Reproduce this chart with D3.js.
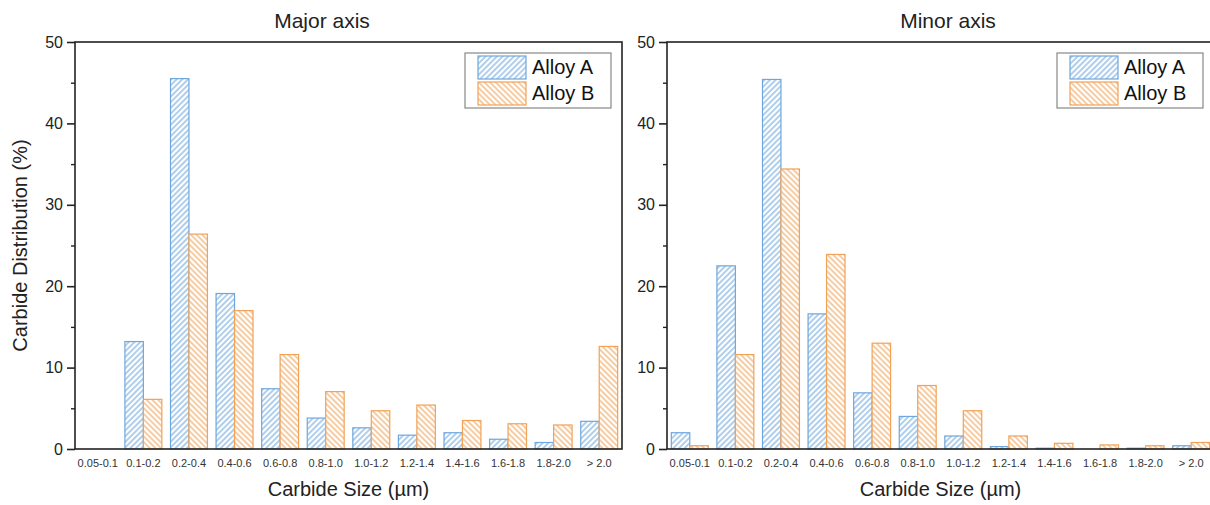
<!DOCTYPE html>
<html>
<head>
<meta charset="utf-8">
<script src="https://cdn.jsdelivr.net/npm/d3@7"></script>
<style>
  html, body { margin: 0; padding: 0; background: #fff; }
  svg { display: block; font-family: Arial, "Liberation Sans", sans-serif; }
</style>
</head>
<body>
<svg id="chart" width="1210" height="505"></svg>
<script>
// ---- data ----
const categories = ["0.05-0.1","0.1-0.2","0.2-0.4","0.4-0.6","0.6-0.8","0.8-1.0","1.0-1.2","1.2-1.4","1.4-1.6","1.6-1.8","1.8-2.0","> 2.0"];
const seriesNames = ["Alloy A", "Alloy B"];
const majorA = [0, 13.2, 45.5, 19.1, 7.4, 3.8, 2.6, 1.7, 2.0, 1.2, 0.8, 3.4];
const majorB = [0, 6.1, 26.4, 17.0, 11.6, 7.05, 4.7, 5.4, 3.5, 3.1, 2.95, 12.6];
const minorA = [2.0, 22.5, 45.4, 16.6, 6.9, 4.0, 1.6, 0.3, 0.1, 0, 0.1, 0.4];
const minorB = [0.4, 11.6, 34.4, 23.9, 13.0, 7.8, 4.7, 1.6, 0.7, 0.5, 0.4, 0.8];
const yMajorTicks = [0, 10, 20, 30, 40, 50];
const yMinorTicks = [5, 15, 25, 35, 45];
const panelTitles = ["Major axis", "Minor axis"];

// ---- styles ----
const colors = ["#6ea7dd", "#f0a257"];
const svg = d3.select("#chart");
const defs = svg.append("defs");
[["hatchA", 45, colors[0]], ["hatchB", -45, colors[1]]].forEach(([id, ang, c]) => {
  const p = defs.append("pattern").attr("id", id)
    .attr("patternUnits", "userSpaceOnUse")
    .attr("width", 4).attr("height", 4)
    .attr("patternTransform", `rotate(${ang})`);
  p.append("rect").attr("width", 4).attr("height", 4).attr("fill", "#fff");
  p.append("line").attr("x1", 1).attr("y1", 0).attr("x2", 1).attr("y2", 4)
    .attr("stroke", c).attr("stroke-width", 1.1);
});
const fills = ["url(#hatchA)", "url(#hatchB)"];

const panels = [
  { x0: 75, x1: 622, a: majorA, b: majorB, title: panelTitles[0], titleX: 322, yLabel: true, legendX: 465 },
  { x0: 667, x1: 1214, a: minorA, b: minorB, title: panelTitles[1], titleX: 948, yLabel: false, legendX: 1057 }
];
const yTop = 42, yBot = 449;

panels.forEach(P => {
  const g = svg.append("g");
  const x = d3.scaleBand().domain(categories).range([P.x0, P.x1]).paddingInner(0.19).paddingOuter(0.095);
  const xs = d3.scaleBand().domain([0, 1]).range([0, x.bandwidth()]);
  const y = d3.scaleLinear().domain([0, 50]).range([yBot, yTop]);

  // bars
  [P.a, P.b].forEach((vals, si) => {
    g.append("g").selectAll("rect").data(categories).join("rect")
      .attr("x", (c) => x(c) + xs(si))
      .attr("width", xs.bandwidth())
      .attr("y", (c, i) => y(vals[i]))
      .attr("height", (c, i) => y(0) - y(vals[i]))
      .attr("fill", fills[si])
      .attr("stroke", colors[si])
      .attr("stroke-width", 1.2)
      .style("display", (c, i) => vals[i] > 0 ? null : "none");
  });

  // frame
  g.append("rect").attr("x", P.x0).attr("y", yTop)
    .attr("width", P.x1 - P.x0).attr("height", yBot - yTop)
    .attr("fill", "none").attr("stroke", "#222").attr("stroke-width", 1.6);

  // y axis
  const ya = g.append("g").attr("transform", `translate(${P.x0},0)`)
    .call(d3.axisLeft(y).tickValues(yMajorTicks).tickSize(8).tickPadding(4));
  ya.select(".domain").remove();
  ya.selectAll(".tick line").attr("stroke", "#222").attr("stroke-width", 1.6);
  ya.selectAll(".tick text").attr("font-size", 16).attr("fill", "#222")
    .attr("font-family", "Arial, 'Liberation Sans', sans-serif");
  const ym = g.append("g").attr("transform", `translate(${P.x0},0)`)
    .call(d3.axisLeft(y).tickValues(yMinorTicks).tickSize(4).tickFormat(""));
  ym.select(".domain").remove();
  ym.selectAll(".tick line").attr("stroke", "#222").attr("stroke-width", 1.4);

  // x axis labels
  const xa = g.append("g").attr("transform", `translate(0,${yBot})`)
    .call(d3.axisBottom(x).tickSize(0).tickPadding(10));
  xa.select(".domain").remove();
  xa.selectAll(".tick text").attr("font-size", 11).attr("fill", "#333")
    .attr("font-family", "Arial, 'Liberation Sans', sans-serif");

  // x title
  g.append("text").attr("x", (P.x0 + P.x1) / 2).attr("y", 496)
    .attr("text-anchor", "middle").attr("font-size", 20).attr("fill", "#222")
    .text("Carbide Size (µm)");

  // panel title
  g.append("text").attr("x", P.titleX).attr("y", 28)
    .attr("text-anchor", "middle").attr("font-size", 21).attr("fill", "#222")
    .text(P.title);

  if (P.yLabel) {
    g.append("text").attr("transform", `translate(27,${(yTop + yBot) / 2}) rotate(-90)`)
      .attr("text-anchor", "middle").attr("font-size", 20).attr("fill", "#222")
      .text("Carbide Distribution (%)");
  }

  // legend
  const L = g.append("g").attr("transform", `translate(${P.legendX},53)`);
  L.append("rect").attr("width", 146).attr("height", 55)
    .attr("fill", "#fff").attr("stroke", "#888").attr("stroke-width", 1.2);
  seriesNames.forEach((n, i) => {
    L.append("rect").attr("x", 13).attr("y", 3 + i * 26).attr("width", 48).attr("height", 23)
      .attr("fill", fills[i]).attr("stroke", colors[i]).attr("stroke-width", 1.2);
    L.append("text").attr("x", 67).attr("y", 21 + i * 26)
      .attr("font-size", 20).attr("fill", "#111").text(n);
  });
});
</script>
</body>
</html>
